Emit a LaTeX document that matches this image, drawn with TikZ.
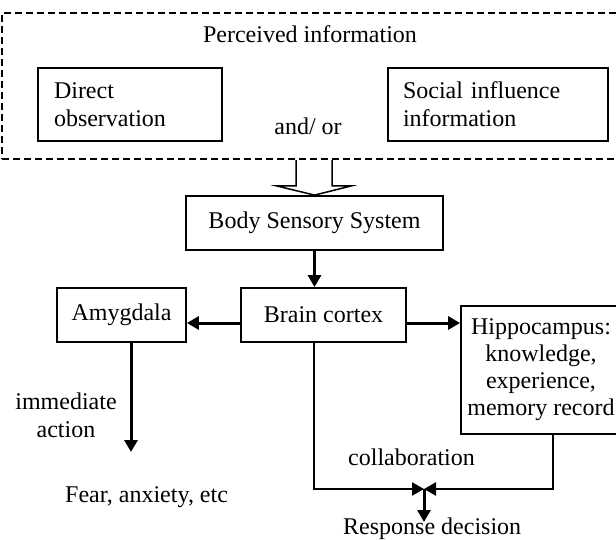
\documentclass[tikz,border=0pt]{standalone}
\usepackage{fontspec}
\setmainfont{Liberation Serif}
\usetikzlibrary{arrows.meta}
\begin{document}
\begin{tikzpicture}[x=1pt,y=-1pt,
  box/.style={draw, line width=1.8pt, inner sep=0pt, font=\fontsize{24}{28}\selectfont},
  lbl/.style={inner sep=0pt, font=\fontsize{24}{28}\selectfont},
  tip/.style={-{Triangle[length=12pt,width=13pt]}},
  arr/.style={line width=3pt, tip},
  conn/.style={line width=2.4pt},
  dashbox/.style={draw, line width=2.2pt, dash pattern=on 7pt off 4pt}]
\clip (0,0) rectangle (616,540);
% dashed frame
\node[dashbox, minimum width=619pt, minimum height=146pt, inner sep=0pt] (percv) at (311.5,86) {};
\node[lbl, anchor=base] (pi) at (310,43) {Perceived information};
\node[box, text width=152pt, inner xsep=16pt, minimum height=73pt, align=left] (direct) at (130,104.5) {Direct\\observation};
\node[box, text width=190pt, inner xsep=15pt, minimum height=73pt, align=left] (social) at (498,104.5) {Social influence\\information};
\node[lbl, anchor=base] (andor) at (308,135) {and/ or};
% boxes
\node[box, minimum width=257pt, minimum height=54pt] (body) at (314.5,223) {Body Sensory System};
\node[box, minimum width=165pt, minimum height=54pt] (brain) at (323.5,315) {Brain cortex};
\node[box, minimum width=129pt, minimum height=54pt] (amyg) at (121.5,315) {Amygdala};
\node[box, minimum width=160pt, minimum height=128pt, align=center, font=\fontsize{24}{27}\selectfont] (hippo) at (541,370) {Hippocampus:\\knowledge,\\experience,\\memory record};
% labels
\node[lbl, align=center] (imm) at (66,415) {immediate\\action};
\node[lbl, anchor=base west] (fear) at (65,502) {Fear, anxiety, etc};
\node[lbl, anchor=base west] (collab) at (348,465) {collaboration};
\node[lbl, anchor=base west] (resp) at (343,534) {Response decision};
% hollow arrow
\draw[line width=1.5pt, fill=white] (296,160.2) -- (296,186) -- (277,186) -- (body.north) -- (351,186) -- (332,186) -- (332,160.2);
% arrows
\draw[arr] (body.south) -- (body.south |- brain.north);
\coordinate (bW) at ([yshift=-8pt]brain.west);
\coordinate (bE) at ([yshift=-8pt]brain.east);
\draw[arr] (bW) -- (bW -| amyg.east);
\draw[arr] (bE) -- (bE -| hippo.west);
\coordinate (fearend) at (131,452);
\draw[arr] ([xshift=9.5pt]amyg.south) -- (fearend);
\coordinate (meet) at (424,489);
\coordinate (resptip) at (424,522);
\draw[conn, tip] ([xshift=-9.5pt]brain.south) |- (meet);
\draw[conn, tip] ([xshift=12pt]hippo.south) |- (meet);
\draw[arr] (meet) -- (resptip);
\end{tikzpicture}
\end{document}
